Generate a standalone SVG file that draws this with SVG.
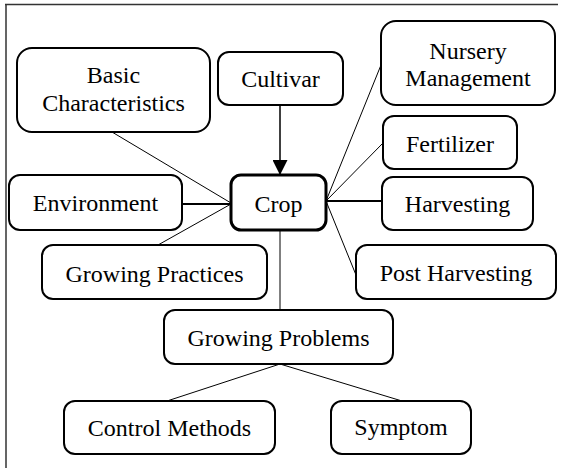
<svg xmlns="http://www.w3.org/2000/svg" width="561" height="468" viewBox="0 0 561 468">
<style>
.box{fill:#fff;stroke:#000;stroke-width:2}
.lbl{font-size:24px;fill:#000;text-anchor:middle}
.thin{stroke:#000;stroke-width:1;fill:none}
.med{stroke:#000;stroke-width:2;fill:none}
</style>
<defs>
<marker id="arr" viewBox="0 0 10 10" refX="10" refY="5" markerWidth="15" markerHeight="15" markerUnits="userSpaceOnUse" orient="auto">
<path d="M0,0 L10,5 L0,10 Z" fill="#000"/>
</marker>
</defs>
<rect x="0" y="0" width="561" height="468" fill="#fff"/>
<g id="frame">
<path d="M5,4.5 H558 M6,4 V468" stroke="#333" stroke-width="1.5" fill="none"/>
</g>
<g id="connectors">
<line class="thin" x1="112" y1="132" x2="231" y2="203"/>
<line class="med" x1="182" y1="204" x2="231" y2="204"/>
<line class="thin" x1="158" y1="245" x2="231" y2="204"/>
<line x1="280" y1="105" x2="280" y2="175" stroke="#000" stroke-width="1.5" marker-end="url(#arr)"/>
<line class="thin" x1="326" y1="201" x2="381" y2="65"/>
<line class="thin" x1="326" y1="201" x2="383" y2="143"/>
<line class="med" x1="326" y1="201" x2="382" y2="201"/>
<line class="thin" x1="326" y1="201" x2="356" y2="275"/>
<line class="thin" x1="280" y1="230" x2="280" y2="310"/>
<line class="thin" x1="280" y1="364" x2="167" y2="401"/>
<line class="thin" x1="280" y1="364" x2="402" y2="401"/>
</g>
<g font-family="'Liberation Serif', 'DejaVu Serif', serif">
<g id="basic">
<rect class="box" x="17" y="48" width="193" height="84" rx="15"/>
<text class="lbl" x="113.5" y="83">Basic</text>
<text class="lbl" x="113.5" y="111">Characteristics</text>
</g>
<g id="cultivar">
<rect class="box" x="218" y="52" width="125" height="53" rx="11"/>
<text class="lbl" x="280.5" y="87">Cultivar</text>
</g>
<g id="nursery">
<rect class="box" x="381" y="21" width="174" height="84" rx="15"/>
<text class="lbl" x="468" y="59">Nursery</text>
<text class="lbl" x="468" y="86">Management</text>
</g>
<g id="fertilizer">
<rect class="box" x="383" y="116" width="134" height="53" rx="11"/>
<text class="lbl" x="450" y="152">Fertilizer</text>
</g>
<g id="crop">
<rect x="231" y="175" width="95" height="55" rx="10" fill="#fff" stroke="#000" stroke-width="3"/>
<text class="lbl" x="278.5" y="212">Crop</text>
</g>
<g id="environment">
<rect class="box" x="9" y="175" width="173" height="55" rx="11"/>
<text class="lbl" x="95.5" y="211">Environment</text>
</g>
<g id="harvesting">
<rect class="box" x="382" y="177" width="151" height="53" rx="11"/>
<text class="lbl" x="457.5" y="212">Harvesting</text>
</g>
<g id="growing-practices">
<rect class="box" x="42" y="245" width="225" height="54" rx="11"/>
<text class="lbl" x="154.5" y="282">Growing Practices</text>
</g>
<g id="post-harvesting">
<rect class="box" x="356" y="245" width="200" height="54" rx="11"/>
<text class="lbl" x="456" y="281">Post Harvesting</text>
</g>
<g id="growing-problems">
<rect class="box" x="164" y="310" width="229" height="54" rx="11"/>
<text class="lbl" x="278.5" y="346">Growing Problems</text>
</g>
<g id="control-methods">
<rect class="box" x="64" y="401" width="211" height="53" rx="11"/>
<text class="lbl" x="169.5" y="436">Control Methods</text>
</g>
<g id="symptom">
<rect class="box" x="331" y="401" width="140" height="53" rx="11"/>
<text class="lbl" x="401" y="435">Symptom</text>
</g>
</g>
</svg>
